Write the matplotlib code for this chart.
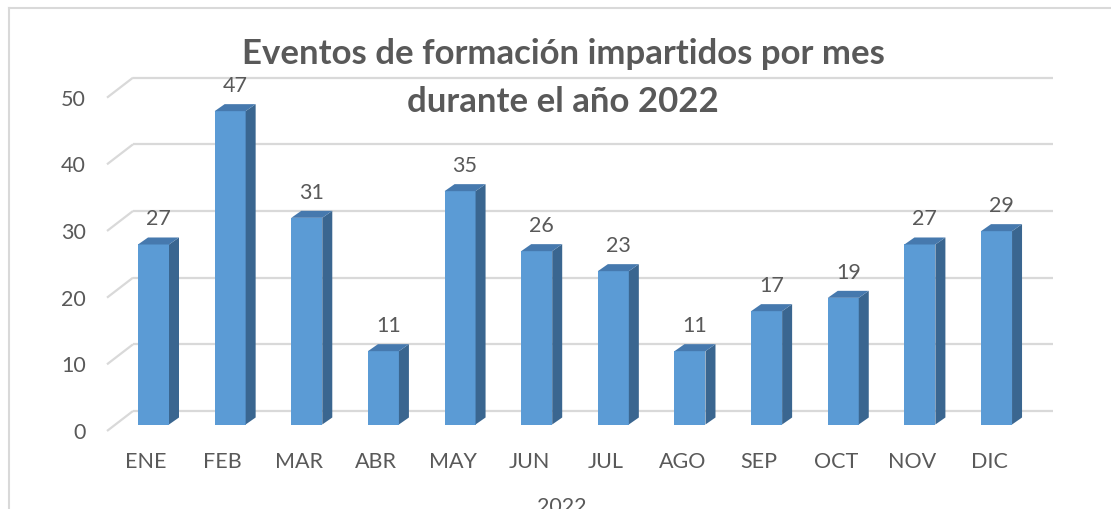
import matplotlib
matplotlib.use('Agg')
import matplotlib.pyplot as plt
from matplotlib.patches import Polygon

# data
months = ['ENE', 'FEB', 'MAR', 'ABR', 'MAY', 'JUN', 'JUL', 'AGO', 'SEP', 'OCT', 'NOV', 'DIC']
eventos = [27, 47, 31, 11, 35, 26, 23, 11, 17, 19, 27, 29]
y_ticks = [0, 10, 20, 30, 40, 50]
title_lines = ['Eventos de formación impartidos por mes', 'durante el año 2022']
x_title = '2022'

FRONT = '#5B9BD5'
SIDE = '#3A6690'
TOP = '#4679AE'
GRID = '#D9D9D9'
TEXT = '#595959'
FONT = 'Lato'

W, H = 1111, 510
# pixel layout of the Excel-style 3D plot
X0, XSTEP = 153.5, 76.64      # centre of first bar face, step between bars
Y0, YSCALE = 425.5, 6.667     # base of bar faces, pixels per unit

fig = plt.figure(figsize=(W / 100, H / 100), dpi=100)
ax = fig.add_axes([0, 0, 1, 1])
ax.set_xlim(-X0 / XSTEP, (W - X0) / XSTEP)
ax.set_ylim((Y0 - H) / YSCALE, Y0 / YSCALE)
ax.axis('off')


def px(x):
    return (x - X0) / XSTEP


def py(y):
    return (Y0 - y) / YSCALE


# depth offsets (data units)
dx_bar, dy_bar = 10 / XSTEP, 7 / YSCALE
wall_x0, wall_x1, wall_dy = px(133), px(1053), py(412)
floor_x, floor_dy = px(107), py(432)
bw = 31 / XSTEP

# back wall gridlines + floor diagonals
for t in y_ticks:
    ax.plot([wall_x0, wall_x1], [t + wall_dy, t + wall_dy], color=GRID, lw=1.6, zorder=1,
            solid_capstyle='butt')
    ax.plot([floor_x, wall_x0], [t + floor_dy, t + wall_dy], color=GRID, lw=1.6, zorder=1,
            solid_capstyle='butt')
    ax.text(px(86), t + py(433), str(t), ha='right', va='center', fontsize=15.5,
            color=TEXT, family=FONT)

xs = list(range(len(months)))
ax.bar(xs, eventos, width=bw, color=FRONT, zorder=3, linewidth=0)
for i, v in zip(xs, eventos):
    r, l = i + bw / 2, i - bw / 2
    ax.add_patch(Polygon([(r, 0), (r + dx_bar, dy_bar), (r + dx_bar, v + dy_bar), (r, v)],
                         closed=True, facecolor=SIDE, edgecolor='none', zorder=3))
    ax.add_patch(Polygon([(l, v), (r, v), (r + dx_bar, v + dy_bar), (l + dx_bar, v + dy_bar)],
                         closed=True, facecolor=TOP, edgecolor='none', zorder=3))
    ax.text(i + dx_bar / 2, v + 26 / YSCALE, str(v), ha='center', va='center',
            fontsize=15.5, color=TEXT, family=FONT, zorder=4)
    ax.text(i - 7.5 / XSTEP, py(462), months[i], ha='center', va='center',
            fontsize=15.5, color=TEXT, family=FONT)

ax.text(px(562), py(507), x_title, ha='center', va='center', fontsize=15.5,
        color=TEXT, family=FONT)

# title
ax.text(px(563), py(54), title_lines[0], ha='center', va='center', fontsize=25,
        fontweight='bold', color=TEXT, family=FONT)
ax.text(px(563), py(102), title_lines[1], ha='center', va='center', fontsize=25,
        fontweight='bold', color=TEXT, family=FONT)

# chart frame
ax.plot([px(8.5), px(W)], [py(8.5), py(8.5)], color=GRID, lw=1.5, zorder=0)
ax.plot([px(8.5), px(8.5)], [py(8.5), py(H)], color=GRID, lw=1.5, zorder=0)

fig.savefig('out.png', dpi=100)
